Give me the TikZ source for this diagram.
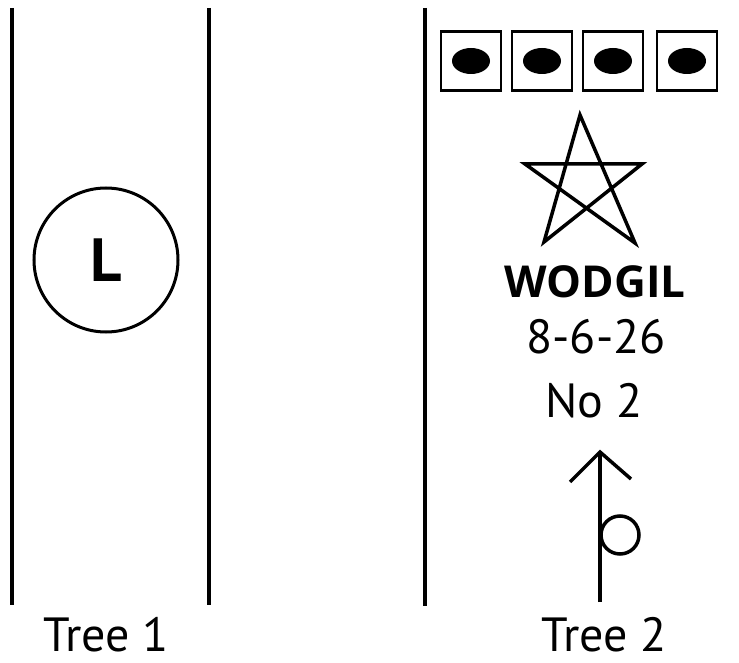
\documentclass[tikz,border=0pt]{standalone}
\usepackage{fontspec}
\setmainfont{PT Sans}
\newfontfamily\fettschrift{Open Sans}
\usetikzlibrary{positioning}

\tikzset{
  baum/.style={line width=4.5pt},
  kiste/.style={draw, line width=2.5pt, minimum width=60pt, minimum height=59pt, inner sep=0pt},
  schrift/.style={inner sep=0pt, anchor=base, font=\fontsize{48}{50}\selectfont},
  fett/.style={inner sep=0pt, anchor=base, font=\fettschrift\bfseries\fontsize{44}{46}\selectfont}
}

\begin{document}
\begin{tikzpicture}[x=1pt, y=-1pt]
\useasboundingbox (0,0) rectangle (739,663);
% die drei Stammlinien
\draw[baum] (12,8) -- (12,605);
\draw[baum] (209,8) -- (209,605);
\draw[baum] (425,8) -- (425,606);
% Baum 1
\node[draw, circle, line width=3pt, minimum size=144pt, inner sep=0pt,
  font=\bfseries\fontsize{61}{63}\selectfont] (kreis) at (106,260) {L};
% Baum 2: vier Kaestchen mit Punkt
\foreach \i/\x in {1/471, 2/542, 3/613, 4/687}{
  \node[kiste] (k\i) at (\x,61) {};
  \fill (k\i.center) ellipse (19pt and 13pt);
}
% Pentagramm
\coordinate (s1) at (580,115);
\coordinate (s2) at (642,164);
\coordinate (s3) at (544,242);
\coordinate (s4) at (525,164);
\coordinate (s5) at (635,243);
\draw[line width=3.5pt, line join=miter] (s1) -- (s3) -- (s2) -- (s4) -- (s5) -- cycle;
\node[fett] (name) at (595,297) {WODGIL};
\node[schrift] (datum) at (596,353) {8-6-26};
\node[schrift] (nummer) at (594,417) {No 2};
% Pfeil mit Kreis
\coordinate (fuss) at (600,602);
\coordinate (spitze) at (600,452);
\coordinate (links) at (570,482);
\coordinate (rechts) at (631,479);
\draw[line width=3.5pt] (fuss) -- (spitze);
\draw[line width=3.5pt, line join=miter] (links) -- (spitze) -- (rechts);
\node[draw, circle, line width=3.5pt, minimum size=38pt, inner sep=0pt] (ring) at (620,535) {};
% Beschriftung
\node[schrift] (baum1) at (106,651) {Tree 1};
\node[schrift] (baum2) at (604,651) {Tree 2};
\end{tikzpicture}
\end{document}
